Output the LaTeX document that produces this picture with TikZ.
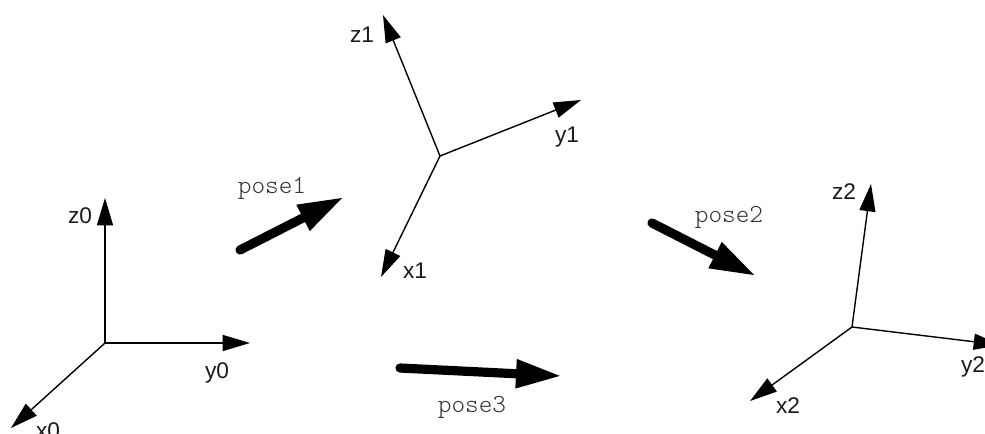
\documentclass[tikz,border=0pt]{standalone}
\usepackage{fontspec}
\setmainfont{Liberation Sans}
\usetikzlibrary{arrows.meta}
\tikzset{
  axis/.style={draw=black,line width=1.05pt,-{Triangle[length=20.5pt,width=12pt]}},
  pose/.style={draw=black,line width=6.9pt,line cap=round,-{Triangle[length=34.5pt,width=20pt]}},
  axlabel/.style={anchor=base,inner sep=0pt,font=\fontsize{17}{19}\selectfont,text=black!90},
  poselabel/.style={anchor=base,inner sep=0pt,font=\fontsize{19.5}{21}\fontseries{l}\ttfamily\selectfont,text=black!80}
}
\begin{document}
\begin{tikzpicture}[x=0.75pt,y=-0.75pt]
\useasboundingbox (0,0) rectangle (985,433);
\clip (0,0) rectangle (985,433);
% frame 0
\coordinate (o0) at (105,343);
\coordinate (z0t) at (105,198);
\coordinate (y0t) at (250,343);
\coordinate (x0t) at (11,428);
\draw[axis] (o0) -- (z0t);
\draw[axis] (o0) -- (y0t);
\draw[axis] (o0) -- (x0t);
\node[axlabel] (lz0) at (80,223) {z0};
\node[axlabel] (ly0) at (217,378) {y0};
\node[axlabel] (lx0) at (48,438) {x0};
% frame 1
\coordinate (o1) at (440,156);
\coordinate (z1t) at (383,15);
\coordinate (y1t) at (581,100);
\coordinate (x1t) at (381,277);
\draw[axis] (o1) -- (z1t);
\draw[axis] (o1) -- (y1t);
\draw[axis] (o1) -- (x1t);
\node[axlabel] (lz1) at (362,42) {z1};
\node[axlabel] (ly1) at (567,142) {y1};
\node[axlabel] (lx1) at (415,278) {x1};
% frame 2
\coordinate (o2) at (852,327);
\coordinate (z2t) at (871,184);
\coordinate (y2t) at (1001,345);
\coordinate (x2t) at (750,401);
\draw[axis] (o2) -- (z2t);
\draw[axis] (o2) -- (y2t);
\draw[axis] (o2) -- (x2t);
\node[axlabel] (lz2) at (844,199) {z2};
\node[axlabel] (ly2) at (973,372) {y2};
\node[axlabel] (lx2) at (788,413) {x2};
% pose arrows
\coordinate (p1s) at (240,250);
\coordinate (p1t) at (344,197);
\coordinate (p2s) at (652,223);
\coordinate (p2t) at (756,276);
\coordinate (p3s) at (400,368);
\coordinate (p3t) at (562,376);
\draw[pose] (p1s) -- (p1t);
\draw[pose] (p2s) -- (p2t);
\draw[pose] (p3s) -- (p3t);
\node[poselabel] (lp1) at (272,193) {pose1};
\node[poselabel] (lp2) at (729,222) {pose2};
\node[poselabel] (lp3) at (472,412) {pose3};
\end{tikzpicture}
\end{document}
